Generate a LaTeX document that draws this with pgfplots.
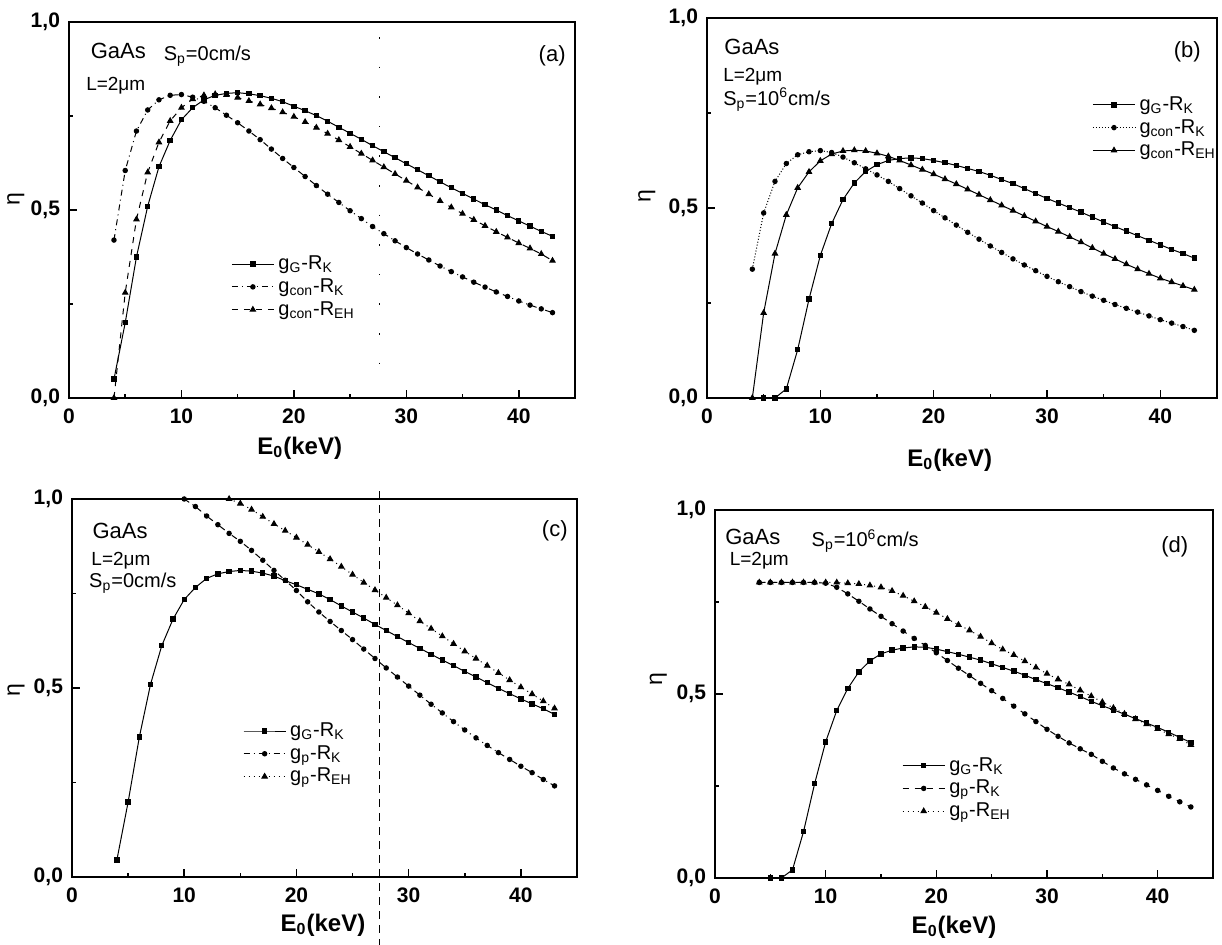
\documentclass[border=0pt]{standalone}
\usepackage{pgfplots}
\pgfplotsset{compat=1.18}
\usepackage{fontspec}
\setmainfont{Liberation Sans}

\tikzset{ann/.style={font=\fontsize{#1}{12}\selectfont, inner sep=0pt}}
\pgfplotsset{
 panel/.style={
  scale only axis, xmin=0, xmax=45, ymin=0, ymax=1,
  xtick={0,10,20,30,40}, xticklabels={0,10,20,30,40},
  minor xtick={5,15,25,35},
  ytick={0,0.5,1}, yticklabels={{0,0},{0,5},{1,0}},
  minor ytick={0.25,0.75},
  xtick pos=bottom, ytick pos=left,
  tick align=inside,
  major tick length=4pt, minor tick length=2pt,
  every tick/.style={black, line width=0.8pt},
  axis line style={line width=1.3pt},
  tick label style={font=\fontsize{10.5}{12}\selectfont\bfseries},
  xticklabel style={yshift=-2pt},
  yticklabel style={xshift=-1pt},
  xlabel={E\textsubscript{0}(keV)},
  xlabel style={font=\fontsize{12}{13}\selectfont\bfseries, anchor=center},
  ylabel={η},
  ylabel style={font=\fontsize{11.5}{12}\selectfont, anchor=center, at={(axis description cs:-0.105,0.53)}},
  legend style={draw=none, fill=none, font=\fontsize{10}{11}\selectfont, anchor=north west, row sep=-1pt, inner sep=0pt},
  legend cell align=left,
  legend image code/.code={\draw[mark repeat=2,mark phase=2,##1] plot coordinates {(0cm,0cm) (0.37cm,0cm) (0.74cm,0cm)};},
 },
 sq/.style={black, line width=0.5pt, mark=square*, mark size=1.1pt, mark options={solid}},
 ci/.style={black, line width=0.5pt, mark=*, mark size=1.1pt, mark options={solid}},
 tr/.style={black, line width=0.5pt, mark=triangle*, mark size=1.5pt, mark options={solid}},
}

\begin{document}
\begin{tikzpicture}
\useasboundingbox (0,0) rectangle (611pt,472.5pt);

% ---------------- (a) ----------------
\begin{axis}[panel, width=253pt, height=188pt, at={(34.5pt,273.5pt)}, anchor=south west,
  xlabel style={at={(axis description cs:0.456,-0.133)}},
  legend style={at={(0.32,0.39)}}]
\addplot[sq] coordinates {(4,0.05)(5,0.20)(6,0.375)(7,0.51)(8,0.615)(9,0.685)(10,0.74)(11,0.772)(12,0.793)(13,0.805)(14,0.81)(15,0.812)(16,0.809)(17,0.804)(18,0.797)(19,0.788)(20,0.776)(21,0.764)(22,0.751)(23,0.736)(24,0.72)(25,0.704)(26,0.688)(27,0.671)(28,0.655)(29,0.639)(30,0.623)(31,0.607)(32,0.591)(33,0.575)(34,0.559)(35,0.544)(36,0.529)(37,0.514)(38,0.5)(39,0.485)(40,0.471)(41,0.457)(42,0.443)(43,0.43)};
\addlegendentry{g\textsubscript{G}-R\textsubscript{K}}
\addplot[ci, dash dot] coordinates {(4,0.42)(5,0.605)(6,0.71)(7,0.766)(8,0.793)(9,0.805)(10,0.807)(11,0.8)(12,0.789)(13,0.772)(14,0.752)(15,0.732)(16,0.71)(17,0.687)(18,0.662)(19,0.637)(20,0.613)(21,0.589)(22,0.565)(23,0.542)(24,0.52)(25,0.498)(26,0.477)(27,0.456)(28,0.437)(29,0.418)(30,0.4)(31,0.383)(32,0.367)(33,0.351)(34,0.336)(35,0.322)(36,0.308)(37,0.295)(38,0.282)(39,0.27)(40,0.258)(41,0.247)(42,0.237)(43,0.227)};
\addlegendentry{g\textsubscript{con}-R\textsubscript{K}}
\addplot[tr, dashed] coordinates {(4,0.0)(5,0.28)(6,0.475)(7,0.60)(8,0.68)(9,0.737)(10,0.772)(11,0.795)(12,0.805)(13,0.808)(14,0.806)(15,0.799)(16,0.79)(17,0.781)(18,0.771)(19,0.76)(20,0.748)(21,0.734)(22,0.719)(23,0.703)(24,0.686)(25,0.668)(26,0.65)(27,0.632)(28,0.614)(29,0.596)(30,0.578)(31,0.56)(32,0.542)(33,0.524)(34,0.507)(35,0.49)(36,0.474)(37,0.458)(38,0.442)(39,0.427)(40,0.412)(41,0.398)(42,0.383)(43,0.365)};
\addlegendentry{g\textsubscript{con}-R\textsubscript{EH}}
\draw[line width=0.5pt, dash pattern=on 0.8pt off 14pt] (axis cs:27.6,0.96) -- (axis cs:27.6,0.05);
\node[ann=11, anchor=west] at (axis cs:1.9,0.922) {GaAs};
\node[ann=9.5, anchor=west] at (axis cs:1.5,0.83) {L=2μm};
\node[ann=10, anchor=west] at (axis cs:8.4,0.91) {S\textsubscript{p}=0cm/s};
\node[ann=11, anchor=east] at (axis cs:44.2,0.91) {(a)};
\end{axis}

% ---------------- (b) ----------------
\begin{axis}[panel, width=255pt, height=190pt, at={(353.5pt,273.5pt)}, anchor=south west,
  xlabel style={at={(axis description cs:0.476,-0.163)}},
  ylabel style={at={(axis description cs:-0.118,0.53)}},
  legend style={at={(0.755,0.805)}}]
\addplot[sq] coordinates {(5,0)(6,0)(7,0.024)(8,0.127)(9,0.26)(10,0.375)(11,0.459)(12,0.522)(13,0.566)(14,0.596)(15,0.614)(16,0.625)(17,0.63)(18,0.632)(19,0.63)(20,0.625)(21,0.619)(22,0.612)(23,0.604)(24,0.596)(25,0.586)(26,0.575)(27,0.564)(28,0.551)(29,0.538)(30,0.525)(31,0.513)(32,0.501)(33,0.489)(34,0.476)(35,0.463)(36,0.451)(37,0.439)(38,0.427)(39,0.415)(40,0.403)(41,0.391)(42,0.38)(43,0.368)};
\addlegendentry{g\textsubscript{G}-R\textsubscript{K}}
\addplot[ci, densely dotted] coordinates {(4,0.339)(5,0.487)(6,0.570)(7,0.617)(8,0.640)(9,0.648)(10,0.651)(11,0.646)(12,0.634)(13,0.619)(14,0.603)(15,0.587)(16,0.570)(17,0.551)(18,0.532)(19,0.513)(20,0.493)(21,0.474)(22,0.455)(23,0.436)(24,0.418)(25,0.400)(26,0.383)(27,0.366)(28,0.350)(29,0.335)(30,0.320)(31,0.306)(32,0.293)(33,0.280)(34,0.268)(35,0.257)(36,0.246)(37,0.236)(38,0.226)(39,0.216)(40,0.206)(41,0.197)(42,0.188)(43,0.178)};
\addlegendentry{g\textsubscript{con}-R\textsubscript{K}}
\addplot[tr] coordinates {(4,0.0)(5,0.224)(6,0.38)(7,0.482)(8,0.553)(9,0.595)(10,0.624)(11,0.642)(12,0.650)(13,0.652)(14,0.650)(15,0.644)(16,0.636)(17,0.625)(18,0.613)(19,0.601)(20,0.589)(21,0.576)(22,0.563)(23,0.549)(24,0.535)(25,0.521)(26,0.507)(27,0.493)(28,0.479)(29,0.465)(30,0.451)(31,0.438)(32,0.424)(33,0.410)(34,0.395)(35,0.380)(36,0.366)(37,0.352)(38,0.339)(39,0.327)(40,0.315)(41,0.305)(42,0.295)(43,0.285)};
\addlegendentry{g\textsubscript{con}-R\textsubscript{EH}}
\node[ann=11, anchor=west] at (axis cs:1.5,0.925) {GaAs};
\node[ann=9.5, anchor=west] at (axis cs:1.4,0.845) {L=2μm};
\node[ann=10, anchor=west] at (axis cs:1.4,0.785) {S\textsubscript{p}=10\textsuperscript{6}cm/s};
\node[ann=11, anchor=east] at (axis cs:43.6,0.912) {(b)};
\end{axis}

% ---------------- (c) ----------------
\begin{axis}[panel, width=252.5pt, height=189pt, at={(36pt,34pt)}, anchor=south west, clip=false,
  xlabel style={at={(axis description cs:0.497,-0.127)}},
  ylabel style={at={(axis description cs:-0.111,0.495)}},
  legend style={at={(0.338,0.42)}}]
\addplot[sq] coordinates {(4,0.045)(5,0.198)(6,0.37)(7,0.51)(8,0.612)(9,0.682)(10,0.734)(11,0.766)(12,0.79)(13,0.802)(14,0.808)(15,0.811)(16,0.809)(17,0.804)(18,0.796)(19,0.784)(20,0.773)(21,0.761)(22,0.749)(23,0.734)(24,0.717)(25,0.701)(26,0.685)(27,0.668)(28,0.652)(29,0.636)(30,0.62)(31,0.605)(32,0.589)(33,0.574)(34,0.559)(35,0.544)(36,0.529)(37,0.514)(38,0.499)(39,0.485)(40,0.471)(41,0.458)(42,0.445)(43,0.43)};
\addlegendentry{g\textsubscript{G}-R\textsubscript{K}}
\addplot[ci, dash dot] coordinates {(10,1.0)(11,0.98)(12,0.955)(13,0.932)(14,0.909)(15,0.888)(16,0.864)(17,0.838)(18,0.811)(19,0.785)(20,0.758)(21,0.728)(22,0.701)(23,0.676)(24,0.652)(25,0.628)(26,0.603)(27,0.578)(28,0.553)(29,0.529)(30,0.505)(31,0.481)(32,0.457)(33,0.434)(34,0.411)(35,0.389)(36,0.368)(37,0.348)(38,0.329)(39,0.311)(40,0.293)(41,0.276)(42,0.258)(43,0.241)};
\addlegendentry{g\textsubscript{p}-R\textsubscript{K}}
\addplot[tr, dotted] coordinates {(14,1.0)(15,0.988)(16,0.972)(17,0.953)(18,0.934)(19,0.916)(20,0.898)(21,0.879)(22,0.86)(23,0.841)(24,0.821)(25,0.8)(26,0.779)(27,0.759)(28,0.739)(29,0.719)(30,0.698)(31,0.677)(32,0.657)(33,0.637)(34,0.617)(35,0.597)(36,0.578)(37,0.559)(38,0.54)(39,0.521)(40,0.502)(41,0.484)(42,0.465)(43,0.446)};
\addlegendentry{g\textsubscript{p}-R\textsubscript{EH}}
\draw[line width=0.5pt, dash pattern=on 4pt off 3pt] (axis cs:27.4,1.02) -- (axis cs:27.4,-0.18);
\node[ann=11, anchor=west] at (axis cs:1.8,0.915) {GaAs};
\node[ann=9.5, anchor=west] at (axis cs:1.7,0.837) {L=2μm};
\node[ann=10, anchor=west] at (axis cs:1.5,0.777) {S\textsubscript{p}=0cm/s};
\node[ann=11, anchor=east] at (axis cs:44.2,0.915) {(c)};
\end{axis}

% ---------------- (d) ----------------
\begin{axis}[panel, width=249pt, height=184pt, at={(357.5pt,33.5pt)}, anchor=south west,
  xlabel style={at={(axis description cs:0.48,-0.133)}},
  ylabel style={at={(axis description cs:-0.114,0.54)}},
  legend style={at={(0.375,0.34)}}]
\addplot[sq] coordinates {(5,0)(6,0)(7,0.022)(8,0.126)(9,0.256)(10,0.37)(11,0.455)(12,0.515)(13,0.56)(14,0.59)(15,0.609)(16,0.619)(17,0.625)(18,0.628)(19,0.627)(20,0.622)(21,0.615)(22,0.608)(23,0.6)(24,0.592)(25,0.582)(26,0.572)(27,0.562)(28,0.551)(29,0.539)(30,0.528)(31,0.517)(32,0.505)(33,0.493)(34,0.48)(35,0.468)(36,0.457)(37,0.445)(38,0.433)(39,0.421)(40,0.409)(41,0.396)(42,0.382)(43,0.368)};
\addlegendentry{g\textsubscript{G}-R\textsubscript{K}}
\addplot[ci, dashed] coordinates {(4,0.803)(5,0.803)(6,0.803)(7,0.803)(8,0.803)(9,0.803)(10,0.801)(11,0.79)(12,0.772)(13,0.752)(14,0.731)(15,0.711)(16,0.691)(17,0.671)(18,0.651)(19,0.632)(20,0.612)(21,0.591)(22,0.570)(23,0.550)(24,0.529)(25,0.509)(26,0.488)(27,0.467)(28,0.446)(29,0.425)(30,0.404)(31,0.385)(32,0.367)(33,0.351)(34,0.336)(35,0.317)(36,0.299)(37,0.283)(38,0.268)(39,0.253)(40,0.238)(41,0.222)(42,0.207)(43,0.193)};
\addlegendentry{g\textsubscript{p}-R\textsubscript{K}}
\addplot[tr, dotted] coordinates {(4,0.803)(5,0.803)(6,0.803)(7,0.803)(8,0.803)(9,0.803)(10,0.803)(11,0.803)(12,0.801)(13,0.799)(14,0.795)(15,0.79)(16,0.78)(17,0.767)(18,0.752)(19,0.737)(20,0.721)(21,0.704)(22,0.688)(23,0.673)(24,0.656)(25,0.638)(26,0.621)(27,0.606)(28,0.589)(29,0.572)(30,0.555)(31,0.54)(32,0.526)(33,0.51)(34,0.494)(35,0.478)(36,0.462)(37,0.446)(38,0.432)(39,0.418)(40,0.405)(41,0.391)(42,0.378)(43,0.362)};
\addlegendentry{g\textsubscript{p}-R\textsubscript{EH}}
\node[ann=11, anchor=west] at (axis cs:0.9,0.928) {GaAs};
\node[ann=9.5, anchor=west] at (axis cs:1.3,0.861) {L=2μm};
\node[ann=10, anchor=west] at (axis cs:8.7,0.915) {S\textsubscript{p}=10\textsuperscript{6}cm/s};
\node[ann=11, anchor=east] at (axis cs:42.8,0.90) {(d)};
\end{axis}
\end{tikzpicture}
\end{document}
